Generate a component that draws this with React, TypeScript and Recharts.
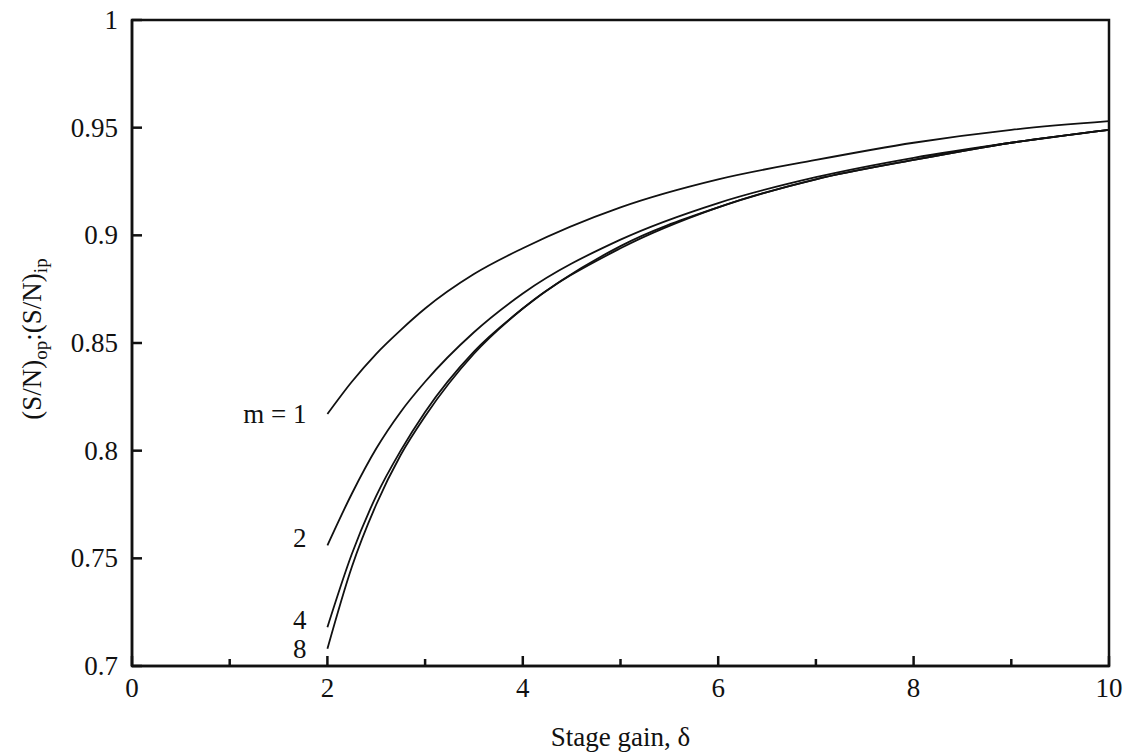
import React from 'react';
import { LineChart, Line, XAxis, YAxis, ReferenceArea, LabelList } from 'recharts';

// stage gain δ and output/input S/N ratio
const stageGain = [2, 2.25, 2.5, 2.75, 3, 3.5, 4, 5, 6, 7, 8, 9, 10];
const ratioM1 = [0.817, 0.832, 0.845, 0.856, 0.866, 0.882, 0.894, 0.913, 0.926, 0.935, 0.943, 0.949, 0.953];
const ratioM2 = [0.756, 0.780, 0.801, 0.818, 0.832, 0.855, 0.873, 0.898, 0.915, 0.927, 0.936, 0.943, 0.949];
const ratioM4 = [0.718, 0.752, 0.779, 0.800, 0.818, 0.846, 0.866, 0.895, 0.913, 0.926, 0.935, 0.943, 0.949];
const ratioM8 = [0.708, 0.746, 0.775, 0.798, 0.816, 0.845, 0.866, 0.894, 0.913, 0.926, 0.935, 0.943, 0.949];

const curveNames = ['m = 1', '2', '4', '8'];
const xTicks = [0, 1, 2, 3, 4, 5, 6, 7, 8, 9, 10];
const yTicks = [0.7, 0.75, 0.8, 0.85, 0.9, 0.95, 1];

const data = stageGain.map((d, i) => ({
  d,
  m1: ratioM1[i],
  m2: ratioM2[i],
  m4: ratioM4[i],
  m8: ratioM8[i],
}));

const FONT = '"Liberation Serif", "Times New Roman", serif';
const INK = '#111';

const XTick = ({ x, y, payload }: any) => {
  const major = payload.value % 2 === 0;
  const axisY = y - 12;
  return (
    <g>
      <line x1={x} x2={x} y1={axisY} y2={axisY - (major ? 10 : 7)} stroke={INK} strokeWidth={2.5} />
      {major && (
        <text x={x} y={axisY + 31} textAnchor="middle" fontSize={27} fontFamily={FONT} fill={INK}>
          {payload.value}
        </text>
      )}
    </g>
  );
};

const YTick = ({ x, y, payload }: any) => {
  const axisX = x + 12;
  return (
    <g>
      <line x1={axisX} x2={axisX + 10} y1={y} y2={y} stroke={INK} strokeWidth={2.5} />
      <text x={axisX - 14} y={y + 9} textAnchor="end" fontSize={27} fontFamily={FONT} fill={INK}>
        {String(payload.value)}
      </text>
    </g>
  );
};

const YLabel = ({ viewBox }: any) => {
  const cx = viewBox.x + 33;
  const cy = viewBox.y + viewBox.height / 2 - 4;
  return (
    <text
      x={cx}
      y={cy}
      transform={`rotate(-90, ${cx}, ${cy})`}
      textAnchor="middle"
      fontSize={27}
      fontFamily={FONT}
      fill={INK}
    >
      <tspan>(S/N)</tspan>
      <tspan fontSize={19} dy={6}>op</tspan>
      <tspan dy={-6}>:(S/N)</tspan>
      <tspan fontSize={19} dy={6}>ip</tspan>
    </text>
  );
};

const XLabel = ({ viewBox }: any) => (
  <text
    x={viewBox.x + viewBox.width / 2}
    y={viewBox.y + 80}
    textAnchor="middle"
    fontSize={27}
    fontFamily={FONT}
    fill={INK}
  >
    Stage gain, δ
  </text>
);

// label only at the curve's left end
const startLabel = (name: string, dy: number) => (props: any) => {
  if (props.index !== 0) return null;
  const px = props.x ?? props.viewBox?.x;
  const py = props.y ?? props.viewBox?.y;
  return (
    <text x={px - 21} y={py + dy} textAnchor="end" fontSize={27} fontFamily={FONT} fill={INK}>
      {name}
    </text>
  );
};

const series = [
  { key: 'm1', dy: 9 },
  { key: 'm2', dy: 2 },
  { key: 'm4', dy: 2 },
  { key: 'm8', dy: 9 },
];

export default function App() {
  return (
    <div style={{ width: 1120, height: 756, background: '#fff', marginTop: -8 }}>
      <LineChart
        width={1120}
        height={756}
        data={data}
        margin={{ top: 20, right: 19, bottom: 0, left: 0 }}
      >
        <XAxis
          dataKey="d"
          type="number"
          domain={[0, 10]}
          ticks={xTicks}
          interval={0}
          tickSize={0}
          tickMargin={12}
          tickLine={false}
          tick={<XTick />}
          axisLine={{ stroke: INK, strokeWidth: 2.5 }}
          height={90}
          label={<XLabel />}
        />
        <YAxis
          type="number"
          domain={[0.7, 1]}
          ticks={yTicks}
          interval={0}
          tickSize={0}
          tickMargin={12}
          tickLine={false}
          tick={<YTick />}
          axisLine={{ stroke: INK, strokeWidth: 2.5 }}
          width={124}
          allowDataOverflow
          label={<YLabel />}
        />
        <ReferenceArea x1={0} x2={10} y1={0.7} y2={1} fill="none" stroke={INK} strokeWidth={2.5} ifOverflow="visible" />
        {series.map((s, i) => (
          <Line
            key={s.key}
            dataKey={s.key}
            type="monotone"
            stroke={INK}
            strokeWidth={1.8}
            dot={false}
            isAnimationActive={false}
          >
            <LabelList dataKey={s.key} content={startLabel(curveNames[i], s.dy)} />
          </Line>
        ))}
      </LineChart>
    </div>
  );
}
